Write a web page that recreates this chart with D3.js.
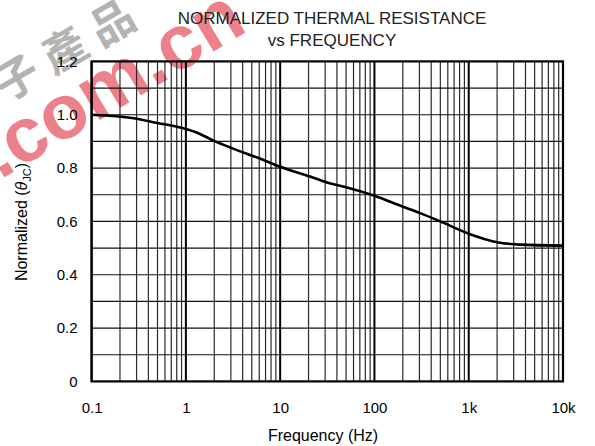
<!DOCTYPE html>
<html>
<head>
<meta charset="utf-8">
<script src="https://cdn.jsdelivr.net/npm/d3@7"></script>
<style>
  body { margin: 0; background: #fff; }
  text { font-family: "Liberation Sans", Arial, sans-serif; }
</style>
</head>
<body>
<svg id="chart" width="595" height="446"></svg>
<script>
var width = 595, height = 446

// data
var freqs  = [0.1, 0.28, 0.5, 0.94, 1.41, 1.94, 3.17, 6.08, 10, 22.5, 33.5, 50, 100, 200, 300, 500, 1000, 2000, 3500, 10000]
var thetas = [1.0, 0.987, 0.969, 0.949, 0.928, 0.904, 0.873, 0.836, 0.805, 0.764, 0.743, 0.728, 0.696, 0.655, 0.632, 0.600, 0.554, 0.522, 0.513, 0.509]

var xTicks = [0.1, 1, 10, 100, 1000, 10000]
var xTickLabels = ["0.1", "1", "10", "100", "1k", "10k"]
var yTicks = [0, 0.2, 0.4, 0.6, 0.8, 1.0, 1.2]
var yTickLabels = ["0", "0.2", "0.4", "0.6", "0.8", "1.0", "1.2"]

var margin = {left: 91.6, right: 32, top: 61.4, bottom: 64.6}
var x = d3.scaleLog().domain([0.1, 10000]).range([margin.left, width - margin.right])
var y = d3.scaleLinear().domain([0, 1.2]).range([height - margin.bottom, margin.top])

var svg = d3.select('#chart')

// watermark
svg.append('text')
  .attr('transform', 'translate(-42,130) rotate(-30)')
  .attr('fill', '#b3b3b3')
  .style('font-size', '44px')
  .style('letter-spacing', '11px')
  .style('font-family', '"Noto Sans CJK TC", sans-serif')
  .style('font-weight', 'bold')
  .text('電子產品')

svg.append('text')
  .attr('transform', 'translate(0,180) rotate(-31)')
  .attr('fill', 'rgba(224,45,62,0.6)')
  .style('font-size', '77px')
  .style('font-weight', 'bold')
  .text('.com.cn')

// grid
var minor = []
for (var d = 0.1; d < 10000; d *= 10) {
  for (var k = 2; k <= 9; k++) minor.push(d * k)
}
var hLines = d3.range(1, 12).map(v => v / 10)

var grid = svg.append('g')
grid.selectAll('.minor')
  .data(minor)
  .enter().append('line')
  .attr('x1', d => x(d)).attr('x2', d => x(d))
  .attr('y1', y(0)).attr('y2', y(1.2))
  .attr('stroke', '#2a2a2a')
  .attr('stroke-width', 1.2)

grid.selectAll('.h')
  .data(hLines)
  .enter().append('line')
  .attr('x1', x(0.1)).attr('x2', x(10000))
  .attr('y1', d => y(d)).attr('y2', d => y(d))
  .attr('stroke', '#111')
  .attr('stroke-width', 1.2)

grid.selectAll('.major')
  .data(xTicks)
  .enter().append('line')
  .attr('x1', d => x(d)).attr('x2', d => x(d))
  .attr('y1', y(0)).attr('y2', y(1.2))
  .attr('stroke', '#000')
  .attr('stroke-width', 2)

svg.append('rect')
  .attr('x', x(0.1)).attr('y', y(1.2))
  .attr('width', x(10000) - x(0.1))
  .attr('height', y(0) - y(1.2))
  .attr('fill', 'none')
  .attr('stroke', '#000')
  .attr('stroke-width', 2.2)

// curve
var line = d3.line()
  .x((d, i) => x(freqs[i]))
  .y(d => y(d))
  .curve(d3.curveMonotoneX)

svg.append('path')
  .datum(thetas)
  .attr('d', line)
  .attr('fill', 'none')
  .attr('stroke', '#000')
  .attr('stroke-width', 2.6)

// axes (labels only)
var xAxis = svg.append('g')
  .attr('transform', 'translate(0,' + (y(0) + 18) + ')')
  .call(d3.axisBottom(x).tickValues(xTicks).tickSize(0).tickFormat((d, i) => xTickLabels[i]))
xAxis.select('.domain').remove()
xAxis.selectAll('text').style('font-size', '15px').attr('fill', '#000').attr('dy', '0.71em')

var yAxis = svg.append('g')
  .attr('transform', 'translate(' + (x(0.1) - 11) + ',0)')
  .call(d3.axisLeft(y).tickValues(yTicks).tickSize(0).tickFormat((d, i) => yTickLabels[i]))
yAxis.select('.domain').remove()
yAxis.selectAll('text').style('font-size', '15px').attr('fill', '#000')

// titles
svg.append('text')
  .attr('x', 332).attr('y', 24)
  .attr('text-anchor', 'middle')
  .style('font-size', '17px')
  .attr('fill', '#222')
  .text('NORMALIZED THERMAL RESISTANCE')
svg.append('text')
  .attr('x', 332).attr('y', 46)
  .attr('text-anchor', 'middle')
  .style('font-size', '17px')
  .attr('fill', '#222')
  .text('vs FREQUENCY')

svg.append('text')
  .attr('x', 323).attr('y', 441)
  .attr('text-anchor', 'middle')
  .style('font-size', '16px')
  .text('Frequency (Hz)')

var yl = svg.append('text')
  .attr('transform', 'translate(27,222) rotate(-90)')
  .attr('text-anchor', 'middle')
  .style('font-size', '16px')
yl.append('tspan').text('Normalized (')
yl.append('tspan').style('font-style', 'italic').text('θ')
yl.append('tspan').attr('dy', 4).style('font-size', '11px').text('JC')
yl.append('tspan').attr('dy', -4).text(')')
</script>
</body>
</html>
